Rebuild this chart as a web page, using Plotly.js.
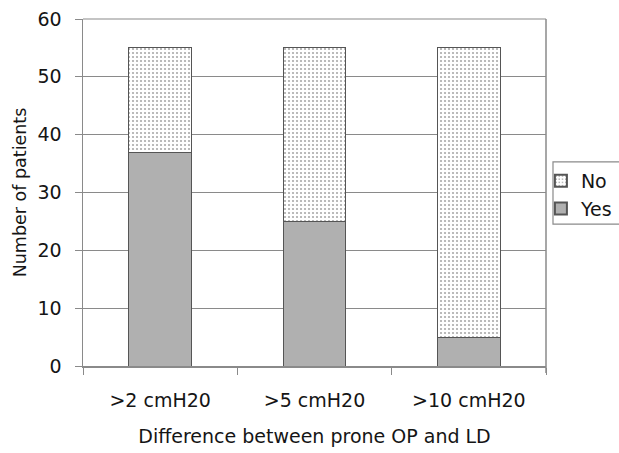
<!DOCTYPE html>
<html>
<head>
<meta charset="utf-8">
<script src="https://cdn.plot.ly/plotly-3.0.1.min.js"></script>
<style>html,body{margin:0;padding:0;background:#fff;}#chart{width:619px;height:453px;}</style>
</head>
<body>
<div id="chart"></div>
<script>
const categories = [">2 cmH20", ">5 cmH20", ">10 cmH20"];
const yesValues = [37, 25, 5];
const noValues = [18, 30, 50];
const yTicks = [0, 10, 20, 30, 40, 50, 60];

const FONT = "DejaVu Sans, sans-serif";
const TXT = "#151515";
const AX = "#8a8a8a";

const traces = [
  {
    type: "bar", name: "Yes", x: categories, y: yesValues,
    marker: {color: "#b0b0b0", line: {color: "#555555", width: 1}},
    width: 0.408
  },
  {
    type: "bar", name: "No", x: categories, y: noValues,
    marker: {
      color: "#ffffff",
      line: {color: "#555555", width: 1},
      pattern: {shape: ".", fgcolor: "#aaaaaa", bgcolor: "#ffffff", size: 4, solidity: 0.22}
    },
    width: 0.408
  }
];

const layout = {
  width: 619, height: 453,
  margin: {l: 83, r: 73, t: 19, b: 87, autoexpand: false},
  paper_bgcolor: "#ffffff", plot_bgcolor: "#ffffff",
  barmode: "stack",
  font: {family: FONT, size: 19, color: TXT},
  showlegend: true,
  legend: {
    x: 0.989, xanchor: "left", y: 0.588, yanchor: "top",
    traceorder: "reversed",
    bgcolor: "rgba(0,0,0,0)",
    borderwidth: 0,
    font: {family: FONT, size: 19, color: TXT},
    itemsizing: "constant"
  },
  xaxis: {
    type: "category",
    showline: true, linecolor: AX, linewidth: 1.5,
    ticks: "outside", tickson: "boundaries", ticklen: 7, tickcolor: AX,
    ticklabelstandoff: 17,
    showgrid: false,
    tickfont: {family: FONT, size: 19, color: TXT},
    title: {text: "Difference between prone OP and LD", font: {family: FONT, size: 19, color: TXT}, standoff: 19},
    range: [-0.5, 2.5]
  },
  yaxis: {
    range: [0, 60],
    tickvals: yTicks,
    showline: true, linecolor: AX, linewidth: 1.5,
    ticks: "outside", ticklen: 7, tickcolor: AX,
    ticklabelstandoff: 9,
    showgrid: true, gridcolor: AX, gridwidth: 1.2,
    zeroline: false,
    tickfont: {family: FONT, size: 19, color: TXT},
    title: {text: "Number of patients", font: {family: FONT, size: 17.5, color: TXT}, standoff: 6}
  },
  shapes: [
    {type: "line", xref: "paper", yref: "paper", x0: 1, x1: 1, y0: -0.02, y1: 1, line: {color: AX, width: 1.5}},
    {type: "line", xref: "paper", yref: "paper", x0: 0, x1: 1, y0: 1, y1: 1, line: {color: AX, width: 1.2}},
    {type: "rect", xref: "paper", yref: "paper", x0: 1.0151, x1: 1.3, y0: 0.409, y1: 0.588, line: {color: AX, width: 1.2}, fillcolor: "rgba(0,0,0,0)"}
  ]
};

Plotly.newPlot("chart", traces, layout, {staticPlot: true, displayModeBar: false});
</script>
</body>
</html>
